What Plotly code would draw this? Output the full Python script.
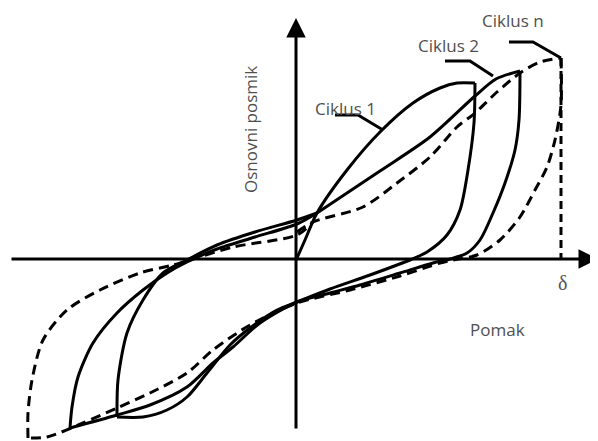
import plotly.graph_objects as go

# schematic hysteresis loops, origin at the crossing of the two axes
# each branch is a list of (pomak, posmik) points

ciklus1_opterecenje = [(1, 1), (9, 19), (21, 46), (51, 89), (84, 127), (117, 156),
                       (144, 171), (161, 176), (179, 176)]
ciklus1_rasterecenje = [(179, 176), (178, 136), (172, 89), (164, 49), (151, 24), (131, 7),
                        (114, -1), (74, -16), (34, -30), (1, -43), (-19, -51), (-46, -69),
                        (-66, -86), (-89, -114), (-109, -138), (-129, -151), (-153, -158),
                        (-179, -158)]
ciklus1_povrat = [(-179, -158), (-178, -121), (-169, -74), (-153, -41), (-133, -14),
                  (-109, -1), (-79, 14), (-41, 27), (1, 39), (21, 46)]

ciklus2_opterecenje = [(21, 46), (84, 88), (134, 122), (179, 163), (200, 180), (224, 188)]
ciklus2_rasterecenje = [(224, 188), (223, 139), (219, 109), (209, 76), (197, 46), (184, 19),
                        (171, 6), (154, 0), (137, -4), (104, -14), (64, -26), (34, -34),
                        (1, -43), (-36, -64), (-63, -88), (-83, -104), (-109, -128),
                        (-146, -146), (-179, -156), (-226, -169)]
ciklus2_povrat = [(-226, -169), (-224, -148), (-218, -118), (-203, -84), (-179, -54),
                  (-153, -31), (-129, -14), (-109, -3), (-79, 10), (-41, 22), (1, 35), (21, 46)]

ciklusn_opterecenje = [(1, 27), (17, 37), (67, 52), (101, 76), (134, 102), (161, 132),
                       (179, 146), (201, 167), (224, 186), (244, 197), (265, 201)]
ciklusn_rasterecenje = [(265, 201), (265, 154), (259, 119), (251, 92), (239, 69), (224, 42),
                        (204, 19), (181, 4), (157, -1), (144, -4), (104, -17), (54, -31),
                        (1, -44), (-46, -66), (-83, -91), (-109, -114), (-146, -134),
                        (-179, -149), (-213, -164), (-249, -178), (-268, -179)]
ciklusn_povrat = [(-268, -179), (-268, -154), (-264, -121), (-253, -81), (-229, -51),
                  (-196, -31), (-156, -14), (-123, -6), (-106, -1), (-63, 12), (1, 24),
                  (17, 37)]

delta_max = [(265, 201), (265, 0)]

# leader lines for the labels
oznaka1 = [(39, 144), (62, 144), (87, 129)]
oznaka2 = [(149, 198), (174, 198), (197, 183)]
oznakan = [(213, 217), (237, 217), (265, 201)]

fig = go.Figure()


def add_branch(pts, dash="solid", spline=True):
    fig.add_trace(go.Scatter(
        x=[p[0] for p in pts], y=[p[1] for p in pts], mode="lines",
        line=dict(color="black", width=3, dash=dash,
                  shape="spline" if spline else "linear", smoothing=0.8),
        hoverinfo="skip", showlegend=False))


for branch in [ciklus1_opterecenje, ciklus1_rasterecenje, ciklus1_povrat,
               ciklus2_opterecenje, ciklus2_rasterecenje, ciklus2_povrat]:
    add_branch(branch)

for branch in [ciklusn_opterecenje, ciklusn_rasterecenje, ciklusn_povrat]:
    add_branch(branch, dash="10px,6px")
add_branch(delta_max, dash="8px,5px", spline=False)

for lead in [oznaka1, oznaka2, oznakan]:
    add_branch(lead, spline=False)

# axes with arrow heads
fig.add_annotation(x=302, y=0, ax=-286, ay=0, xref="x", yref="y", axref="x", ayref="y",
                   text="", showarrow=True, arrowhead=2, arrowsize=1.3, arrowwidth=3,
                   arrowcolor="black")
fig.add_annotation(x=0, y=241, ax=0, ay=-171, xref="x", yref="y", axref="x", ayref="y",
                   text="", showarrow=True, arrowhead=2, arrowsize=1.3, arrowwidth=3,
                   arrowcolor="black")

txt = dict(family="Open Sans", size=17, color="#505050")
labels = [("Ciklus 1", 49, 151), ("Ciklus 2", 152, 214), ("Ciklus n", 217, 239),
          ("Pomak", 201, -70)]
for t, x, y in labels:
    fig.add_annotation(x=x, y=y, text=t, showarrow=False, font=txt)
fig.add_annotation(x=-46, y=129, text="Osnovni posmik", textangle=-90, showarrow=False,
                   font=txt)
fig.add_annotation(x=266, y=-24, text="δ", showarrow=False,
                   font=dict(family="Liberation Serif", size=20, color="#555555"))

# the page body has an 8px margin, so the figure is a bit smaller and the ranges shifted
fig.update_layout(
    width=590, height=433, margin=dict(l=0, r=0, t=0, b=0),
    paper_bgcolor="white", plot_bgcolor="white",
    xaxis=dict(range=[-288, 302], visible=False, fixedrange=True),
    yaxis=dict(range=[-182, 251], visible=False, fixedrange=True),
)

fig.write_html("out.html")
